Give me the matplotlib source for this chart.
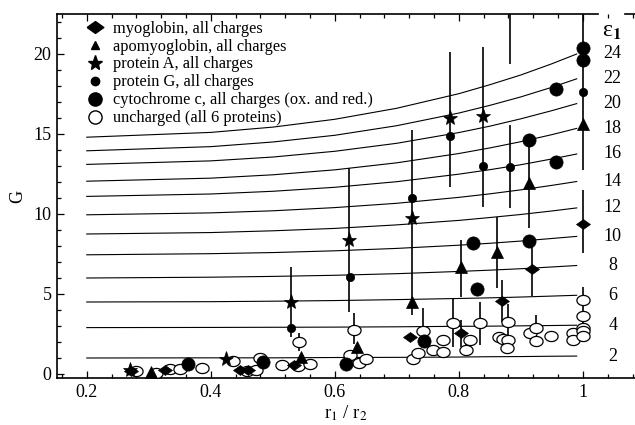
import numpy as np
import matplotlib
matplotlib.use('Agg')
import matplotlib.pyplot as plt
from matplotlib.lines import Line2D

plt.rcParams['font.family'] = ['Liberation Serif', 'DejaVu Serif']
plt.rcParams['mathtext.fontset'] = 'stix'

# ---------------- theoretical curves (G vs r1/r2 for each eps1) ----------------
curve_x = [0.2, 0.4, 0.5, 0.6, 0.7, 0.8, 0.85, 0.9, 0.95, 0.99]
curve_eps = [2, 4, 6, 8, 10, 12, 14, 16, 18, 20, 22, 24]
curve_G = [
    [1.00, 1.01, 1.01, 1.03, 1.04, 1.06, 1.08, 1.09, 1.11, 1.12],
    [2.90, 2.91, 2.92, 2.93, 2.95, 2.98, 2.99, 3.01, 3.03, 3.05],
    [4.50, 4.52, 4.55, 4.59, 4.65, 4.72, 4.76, 4.81, 4.87, 4.92],
    [6.00, 6.05, 6.10, 6.17, 6.27, 6.41, 6.49, 6.58, 6.69, 6.78],
    [7.45, 7.52, 7.59, 7.70, 7.85, 8.05, 8.17, 8.31, 8.47, 8.60],
    [8.75, 8.84, 8.95, 9.10, 9.32, 9.60, 9.78, 9.97, 10.19, 10.38],
    [9.95, 10.07, 10.20, 10.40, 10.67, 11.04, 11.26, 11.51, 11.79, 12.03],
    [11.10, 11.25, 11.42, 11.67, 12.02, 12.49, 12.77, 13.08, 13.44, 13.75],
    [12.05, 12.24, 12.45, 12.76, 13.20, 13.78, 14.13, 14.52, 14.96, 15.35],
    [13.10, 13.32, 13.56, 13.92, 14.42, 15.09, 15.49, 15.95, 16.46, 16.90],
    [13.95, 14.21, 14.50, 14.92, 15.52, 16.31, 16.79, 17.32, 17.92, 18.45],
    [14.80, 15.10, 15.43, 15.92, 16.61, 17.52, 18.08, 18.69, 19.39, 20.00],
]

# ---------------- measured data ----------------
# myoglobin
myo_x = [0.272, 0.326, 0.447, 0.460, 0.534, 0.721, 0.803, 0.869, 0.918, 1.000]
myo_G = [0.20, 0.25, 0.22, 0.25, 0.58, 2.33, 2.54, 4.58, 6.54, 9.40]
myo_lo = [None, None, None, None, None, None, 1.70, 3.27, 4.87, 7.55]
myo_hi = [None, None, None, None, None, None, 3.40, 5.87, 8.30, 11.50]

# apomyoglobin
apo_x = [0.304, 0.545, 0.635, 0.724, 0.804, 0.862, 0.913, 1.000]
apo_G = [0.10, 1.05, 1.68, 4.52, 6.71, 7.65, 11.96, 15.60]
apo_lo = [None, None, None, None, 4.83, 5.35, 9.10, 12.75]
apo_hi = [None, None, None, None, 8.37, 9.83, 14.60, 24.00]

# protein A
pa_x = [0.270, 0.424, 0.529, 0.623, 0.724, 0.785, 0.839, 0.882]
pa_G = [0.26, 0.92, 4.48, 8.38, 9.73, 15.98, 16.10, 23.60]
pa_lo = [None, None, 2.33, 3.90, 3.69, 11.70, 10.46, 19.40]
pa_hi = [None, None, 6.71, 12.90, 15.25, 20.10, 20.45, 26.00]

# protein G
pg_x = [0.529, 0.624, 0.725, 0.786, 0.839, 0.882, 1.000]
pg_G = [2.85, 6.04, 11.00, 14.90, 13.00, 12.96, 17.60]
pg_lo = [None, None, None, None, None, 10.40, None]
pg_hi = [None, None, None, None, None, 15.56, None]

# cytochrome c
cyt_x = [0.363, 0.484, 0.618, 0.744, 0.823, 0.829, 0.913, 0.913, 0.956, 0.956, 1.000, 1.000]
cyt_G = [0.63, 0.75, 0.60, 2.08, 8.21, 5.31, 14.60, 8.31, 17.80, 13.27, 20.40, 19.65]
cyt_lo = [None] * 12
cyt_hi = [None] * 12

# uncharged (all 6 proteins)
unc_x = [0.280, 0.312, 0.334, 0.350, 0.385, 0.436, 0.458, 0.473, 0.479, 0.514,
         0.541, 0.560, 0.543, 0.624, 0.639, 0.651, 0.631, 0.726, 0.734, 0.742,
         0.759, 0.775, 0.775, 0.790, 0.811, 0.818, 0.834, 0.865, 0.871, 0.880,
         0.880, 0.878, 0.915, 0.925, 0.924, 0.948, 0.984, 0.984, 1.000, 1.000,
         1.000, 1.000, 1.000]
unc_G = [0.16, 0.08, 0.30, 0.30, 0.35, 0.80, 0.20, 0.25, 0.98, 0.56,
         0.52, 0.60, 2.00, 1.17, 0.67, 0.95, 2.75, 0.94, 1.29, 2.71,
         1.50, 1.40, 2.12, 3.21, 1.50, 2.12, 3.17, 2.33, 2.20, 3.27,
         2.12, 1.65, 2.54, 2.90, 2.04, 2.40, 2.55, 2.10, 4.62, 3.62,
         2.90, 2.70, 2.35]
unc_lo = [None] * 12 + [1.46, 0.80, None, None, 1.90, 0.60, 1.00, 2.00,
                        None, None, None, 1.70, 1.10, None, 1.81, None, None, 1.60,
                        None, 1.30, None, 2.00, 1.70, None, None, None, 3.50, None,
                        2.40, None, None]
unc_hi = [None] * 12 + [2.56, 1.50, None, None, 3.80, 1.30, 1.60, 4.10,
                        None, None, None, 4.75, 1.90, None, 4.52, None, None, 4.40,
                        None, 2.00, None, 3.70, 2.40, None, None, None, 5.45, None,
                        3.30, None, None]

# ---------------- marker shapes ----------------
t = np.linspace(0, 2 * np.pi, 41)
ellipse_marker = list(zip(1.3 * np.cos(t), np.sin(t)))
diamond_marker = [(-1.4, 0), (0, 1), (1.4, 0), (0, -1), (-1.4, 0)]

fig = plt.figure(figsize=(6.35, 4.25), dpi=100)
ax = fig.add_axes([57 / 635, 47 / 425, 578 / 635, 364 / 425])

for g in curve_G:
    ax.plot(curve_x, g, color='k', lw=0.8, zorder=1)


def draw(xs, gs, lo, hi, marker, ms, face, mew, z):
    for x, l, h in zip(xs, lo, hi):
        if l is not None:
            ax.vlines(x, l, h, color='k', lw=1.2, zorder=2)
    ax.plot(xs, gs, ls='none', marker=marker, ms=ms, mfc=face, mec='k',
            mew=mew, zorder=z)


draw(unc_x, unc_G, unc_lo, unc_hi, ellipse_marker, 9.5, 'white', 0.9, 3)
draw(myo_x, myo_G, myo_lo, myo_hi, diamond_marker, 10, 'k', 0.5, 4)
draw(apo_x, apo_G, apo_lo, apo_hi, '^', 8, 'k', 0.5, 4)
draw(pa_x, pa_G, pa_lo, pa_hi, '*', 11, 'k', 0.5, 4)
draw(pg_x, pg_G, pg_lo, pg_hi, 'o', 6, 'k', 0.5, 5)
draw(cyt_x, cyt_G, cyt_lo, cyt_hi, 'o', 9.5, 'k', 0.5, 5)

# eps1 labels at the right end of the curves
for eps, g in zip(curve_eps, curve_G):
    ax.text(1.048, g[-1], str(eps), ha='center', va='center', fontsize=13,
            clip_on=False)
ax.text(1.046, 21.4, r'ε$_{\mathbf{1}}$', ha='center', va='center',
        fontsize=17, clip_on=False)

ax.set_xlim(0.152, 1.084)
ax.set_ylim(-0.25, 22.5)
ax.set_xticks([0.2, 0.4, 0.6, 0.8, 1.0])
ax.set_xticklabels(['0.2', '0.4', '0.6', '0.8', '1'])
ax.set_xticks(np.arange(0.16, 1.09, 0.04), minor=True)
ax.set_yticks([0, 5, 10, 15, 20])
ax.set_yticks(np.arange(0, 23, 1), minor=True)
ax.tick_params(which='both', direction='in', top=True, right=False,
               labelsize=13, width=0.9)
ax.tick_params(which='major', length=5, pad=4)
ax.tick_params(which='minor', length=3)

ax.spines['right'].set_visible(False)
ax.spines['top'].set_visible(False)
for s in ['left', 'bottom']:
    ax.spines[s].set_linewidth(1.2)
ax.plot([0, 0.936], [1, 1], transform=ax.transAxes, color='k', lw=1.2,
        clip_on=False)
ax.plot([0.983, 1.0], [1, 1], transform=ax.transAxes, color='k', lw=1.2,
        clip_on=False)

ax.set_ylabel('G', fontsize=13, labelpad=5)
ax.set_xlabel(r'r$_1$ / r$_2$', fontsize=13.5, labelpad=2)

handles = [
    Line2D([], [], ls='none', marker=diamond_marker, ms=12, color='k'),
    Line2D([], [], ls='none', marker='^', ms=6, color='k'),
    Line2D([], [], ls='none', marker='*', ms=11, color='k'),
    Line2D([], [], ls='none', marker='o', ms=6, color='k'),
    Line2D([], [], ls='none', marker='o', ms=9.5, color='k'),
    Line2D([], [], ls='none', marker='o', ms=9.5, mfc='white', mec='k', mew=1.0),
]
labels = ['myoglobin, all charges', 'apomyoglobin, all charges',
          'protein A, all charges', 'protein G, all charges',
          'cytochrome c, all charges (ox. and red.)',
          'uncharged (all 6 proteins)']
ax.legend(handles, labels, loc='upper left', bbox_to_anchor=(0.052, 0.982),
          frameon=False, fontsize=11.8, handlelength=1.0, handletextpad=0.6,
          labelspacing=0.12, borderpad=0, borderaxespad=0)

fig.savefig('out.png', dpi=100)
